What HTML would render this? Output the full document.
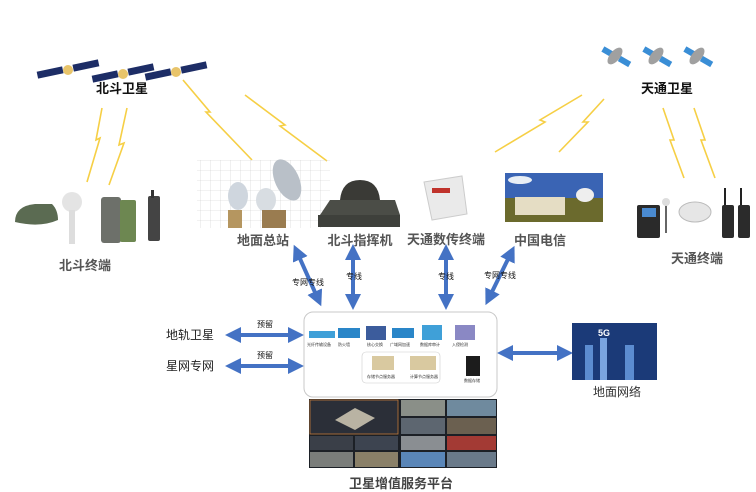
<!DOCTYPE html>
<html><head><meta charset="utf-8"><style>
html,body{margin:0;padding:0;background:#fff;}
svg{display:block;font-family:"Liberation Sans","Noto Sans CJK SC",sans-serif;}
.lb{font-weight:bold;fill:#555;font-size:13px;}
.bk{font-weight:bold;fill:#111;font-size:13px;}
.sm{font-size:8px;fill:#111;}
.zap{fill:none;stroke:#f6cf45;stroke-width:1.6;stroke-linejoin:miter;}
</style></head><body>
<svg width="756" height="492" viewBox="0 0 756 492" xmlns="http://www.w3.org/2000/svg">
<defs>
<marker id="ah" markerWidth="4" markerHeight="4" refX="2" refY="2" orient="auto-start-reverse" markerUnits="strokeWidth">
<path d="M0,0 L4,2 L0,4 Z" fill="#4472c4"/></marker>
<pattern id="grid" width="10" height="10" patternUnits="userSpaceOnUse"><path d="M10 0 L0 0 0 10" fill="none" stroke="#ccc" stroke-width="0.6"/></pattern>
<g id="bsat"><rect x="0" y="3" width="26" height="7" fill="#1d2d66" transform="rotate(-12 13 6)"/><circle cx="31" cy="4" r="5" fill="#e8c46a"/><rect x="36" y="-4" width="26" height="7" fill="#1d2d66" transform="rotate(-12 49 0)"/></g>
<g id="tsat"><rect x="-14" y="-3" width="12" height="6" fill="#3a8ed6" transform="rotate(30)"/><rect x="5" y="-3" width="12" height="6" fill="#3a8ed6" transform="rotate(30)"/><ellipse cx="0" cy="0" rx="5" ry="10" fill="#a0a0a0" transform="rotate(40)"/></g>
</defs>

<!-- Beidou satellites -->
<use href="#bsat" x="37" y="66"/>
<use href="#bsat" x="92" y="70"/>
<use href="#bsat" x="145" y="68"/>
<text x="122" y="93" class="bk" text-anchor="middle">北斗卫星</text>

<!-- Tiantong sats -->
<use href="#tsat" x="615" y="56"/>
<use href="#tsat" x="656" y="56"/>
<use href="#tsat" x="697" y="56"/>
<text x="667" y="93" class="bk" text-anchor="middle">天通卫星</text>

<!-- lightning -->
<polyline class="zap" points="102,108 96,140 100,138 87,182"/>
<polyline class="zap" points="127,108 119,145 124,143 109,185"/>
<polyline class="zap" points="183,80 210,112 206,112 252,160"/>
<polyline class="zap" points="245,95 285,125 280,126 327,161"/>
<polyline class="zap" points="582,95 540,120 545,122 495,152"/>
<polyline class="zap" points="604,99 583,122 588,122 559,152"/>
<polyline class="zap" points="663,108 674,140 670,140 684,178"/>
<polyline class="zap" points="694,108 705,140 701,140 715,178"/>

<!-- Beidou terminals -->
<path d="M15,222 Q15,206 35,204 L52,204 Q58,210 58,220 Q40,228 15,222Z" fill="#5b6b52"/>
<circle cx="72" cy="202" r="10" fill="#e4e4e4"/><rect x="69" y="210" width="6" height="34" fill="#ddd"/>
<rect x="101" y="197" width="20" height="46" rx="3" fill="#6d706a"/><rect x="120" y="200" width="16" height="42" rx="2" fill="#6d8751"/>
<rect x="148" y="196" width="12" height="45" rx="2" fill="#444"/><rect x="151" y="190" width="3" height="8" fill="#333"/>
<text x="85" y="270" class="lb" text-anchor="middle">北斗终端</text>

<!-- ground station -->
<rect x="197" y="160" width="133" height="68" fill="url(#grid)"/>
<ellipse cx="238" cy="196" rx="10" ry="14" fill="#cfd6de"/><ellipse cx="266" cy="200" rx="10" ry="12" fill="#d8dde2"/><ellipse cx="287" cy="180" rx="12" ry="22" fill="#b9c0c8" transform="rotate(-25 287 180)"/>
<rect x="228" y="210" width="14" height="18" fill="#b59660"/><rect x="262" y="210" width="24" height="18" fill="#9a7c50"/>
<text x="263" y="245" class="lb" text-anchor="middle">地面总站</text>

<!-- command machine -->
<path d="M340,200 Q342,180 360,180 Q378,180 380,200Z" fill="#3a3a36"/>
<path d="M320,215 L330,200 L395,200 L400,215Z" fill="#4b4d47"/><rect x="318" y="215" width="82" height="12" fill="#3e403b"/>
<text x="360" y="245" class="lb" text-anchor="middle">北斗指挥机</text>

<!-- tiantong data terminal -->
<path d="M424,182 L462,176 L467,214 L432,220Z" fill="#eaeaea" stroke="#ccc"/>
<rect x="432" y="188" width="18" height="5" fill="#c0332c"/>
<text x="446" y="244" class="lb" text-anchor="middle">天通数传终端</text>

<!-- china telecom photo -->
<rect x="505" y="173" width="98" height="25" fill="#3a64b4"/>
<rect x="505" y="198" width="98" height="24" fill="#6b6a2d"/>
<ellipse cx="520" cy="180" rx="12" ry="4" fill="#e8eef5"/>
<rect x="515" y="197" width="50" height="18" fill="#e5ddc4"/>
<ellipse cx="585" cy="195" rx="9" ry="7" fill="#eee"/>
<text x="540" y="245" class="lb" text-anchor="middle">中国电信</text>

<!-- tiantong terminals -->
<rect x="637" y="205" width="23" height="33" rx="2" fill="#2a2a2a"/><rect x="642" y="208" width="14" height="9" fill="#4a8ad0"/>
<line x1="666" y1="204" x2="666" y2="233" stroke="#333" stroke-width="1.5"/><circle cx="666" cy="202" r="4" fill="#ddd"/>
<ellipse cx="695" cy="212" rx="16" ry="10" fill="#e6e6e6" stroke="#bbb"/>
<rect x="722" y="205" width="12" height="33" rx="2" fill="#2b2b2b"/><rect x="738" y="205" width="12" height="33" rx="2" fill="#2b2b2b"/>
<rect x="724" y="188" width="2" height="17" fill="#222"/><rect x="740" y="188" width="2" height="17" fill="#222"/>
<text x="697" y="263" class="lb" text-anchor="middle">天通终端</text>

<!-- arrows -->
<g stroke="#4472c4" stroke-width="4" marker-start="url(#ah)" marker-end="url(#ah)">
<line x1="297" y1="252" x2="318" y2="299"/>
<line x1="353" y1="252" x2="353" y2="302"/>
<line x1="446" y1="252" x2="446" y2="302"/>
<line x1="511" y1="253" x2="489" y2="298"/>
<line x1="233" y1="335" x2="296" y2="335"/>
<line x1="233" y1="366" x2="296" y2="366"/>
<line x1="505" y1="353" x2="565" y2="353"/>
</g>
<text x="308" y="285" class="sm" text-anchor="middle">专网专线</text>
<text x="354" y="279" class="sm" text-anchor="middle">专线</text>
<text x="446" y="279" class="sm" text-anchor="middle">专线</text>
<text x="500" y="278" class="sm" text-anchor="middle">专网专线</text>
<text x="265" y="327" class="sm" text-anchor="middle">预留</text>
<text x="265" y="358" class="sm" text-anchor="middle">预留</text>
<text x="166" y="339" font-size="12" fill="#222">地轨卫星</text>
<text x="166" y="370" font-size="12" fill="#222">星网专网</text>

<!-- platform box -->
<rect x="304" y="312" width="193" height="85" rx="9" fill="#fff" stroke="#c8c8c8"/>
<rect x="309" y="331" width="26" height="7" fill="#3fa0d8"/>
<rect x="338" y="328" width="22" height="10" fill="#2a86c8"/>
<rect x="366" y="326" width="20" height="14" fill="#3c5c9c"/>
<rect x="392" y="328" width="22" height="10" fill="#2a86c8"/>
<rect x="422" y="325" width="20" height="15" fill="#3fa0d8"/>
<rect x="455" y="325" width="20" height="15" fill="#8a88c4"/>
<g font-size="4" fill="#333"><text x="307" y="346">光纤传输设备</text><text x="338" y="346">防火墙</text><text x="367" y="346">核心交换</text><text x="390" y="346">广域网加速</text><text x="420" y="346">数据库审计</text><text x="452" y="346">入侵检测</text></g>
<rect x="362" y="352" width="78" height="31" rx="4" fill="none" stroke="#ccc" stroke-width="0.6"/>
<rect x="372" y="356" width="22" height="14" fill="#d9c9a0"/>
<rect x="410" y="356" width="26" height="14" fill="#d9c9a0"/>
<rect x="466" y="356" width="14" height="20" fill="#1c1c1c"/>
<g font-size="4" fill="#333"><text x="367" y="378">存储节点服务器</text><text x="410" y="378">计算节点服务器</text><text x="464" y="382">数据存储</text></g>

<!-- screen wall -->
<rect x="309" y="399" width="188" height="69" fill="#1c2026"/>
<rect x="310" y="400" width="88" height="34" fill="#2b2f38" stroke="#c27a3a" stroke-width="0.8"/>
<path d="M335,420 L355,408 L375,418 L355,430Z" fill="#b9b3a3"/>
<rect x="401" y="400" width="44" height="16" fill="#8a8f88"/><rect x="447" y="400" width="49" height="16" fill="#6f8a9e"/>
<rect x="401" y="418" width="44" height="16" fill="#5d6670"/><rect x="447" y="418" width="49" height="16" fill="#6b6050"/>
<rect x="310" y="436" width="43" height="14" fill="#3a3f48"/><rect x="355" y="436" width="43" height="14" fill="#3d4450"/>
<rect x="401" y="436" width="44" height="14" fill="#8a8e92"/><rect x="447" y="436" width="49" height="14" fill="#a33a34"/>
<rect x="310" y="452" width="43" height="15" fill="#7a7d7a"/><rect x="355" y="452" width="43" height="15" fill="#8a8068"/>
<rect x="401" y="452" width="44" height="15" fill="#5a86b8"/><rect x="447" y="452" width="49" height="15" fill="#6a7a8a"/>
<text x="401" y="488" class="lb" text-anchor="middle" style="fill:#444">卫星增值服务平台</text>

<!-- 5G -->
<rect x="572" y="323" width="85" height="57" fill="#1b3a78"/>
<rect x="585" y="345" width="8" height="35" fill="#5c8cd0"/><rect x="600" y="338" width="7" height="42" fill="#7aa4e0"/><rect x="625" y="345" width="9" height="35" fill="#5c8cd0"/>
<text x="598" y="336" font-size="9" fill="#fff" font-weight="bold">5G</text>
<text x="617" y="396" font-size="12" fill="#333" text-anchor="middle">地面网络</text>
</svg>
</body></html>
